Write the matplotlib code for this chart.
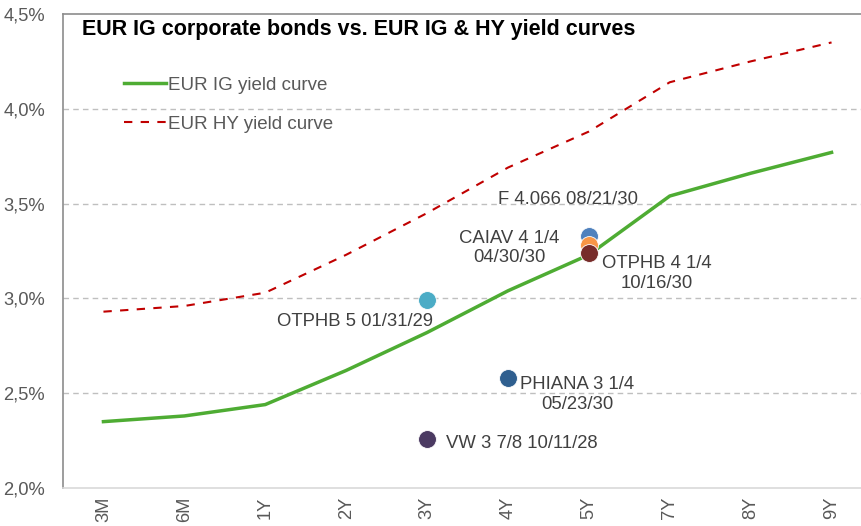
import matplotlib
matplotlib.use("Agg")
import matplotlib.pyplot as plt
from matplotlib.ticker import FuncFormatter

plt.rcParams["font.family"] = ["Liberation Sans", "DejaVu Sans"]

tenors = ["3M", "6M", "1Y", "2Y", "3Y", "4Y", "5Y", "7Y", "8Y", "9Y"]
ig_curve = [2.35, 2.38, 2.44, 2.62, 2.82, 3.04, 3.23, 3.54, 3.66, 3.77]
hy_curve = [2.93, 2.96, 3.03, 3.23, 3.45, 3.69, 3.88, 4.14, 4.25, 4.35]

# individual bonds: name, tenor bucket, yield
bond_names = ["OTPHB 5 01/31/29", "PHIANA 3 1/4\n05/23/30", "VW 3 7/8 10/11/28",
              "F 4.066 08/21/30", "CAIAV 4 1/4\n04/30/30", "OTPHB 4 1/4\n10/16/30"]
bond_tenors = ["3Y", "4Y", "3Y", "5Y", "5Y", "5Y"]
bond_yields = [2.99, 2.58, 2.26, 3.33, 3.28, 3.24]
bond_colors = ["#4bacc6", "#2f5f8f", "#4b3a62", "#4f81bd", "#f79646", "#772c2a"]

TEXT = "#404040"
TICK = "#595959"

fig = plt.figure(figsize=(8.61, 5.26), dpi=100)
ax = fig.add_axes([63 / 861, 1 - 488 / 526, 809 / 861, 474 / 526])

x = list(range(len(tenors)))
ax.plot(x, ig_curve, color="#4eac33", linewidth=2.5, label="EUR IG yield curve", zorder=3)
ax.plot(x, hy_curve, color="#c00000", linewidth=1.5, dashes=(4, 4),
        label="EUR HY yield curve", zorder=3)

bx = [tenors.index(t) for t in bond_tenors]
for xi, yi, c in zip(bx, bond_yields, bond_colors):
    ax.scatter(xi, yi, s=165, color=c, edgecolor="white", linewidth=0.6, zorder=4)

# label offsets from the dots, in points
offsets = [(-52, -15, "center"), (50, -12, "center"), (14, -3.5, "left"),
           (-15, 26, "center"), (-57, -2, "center"), (49, -15, "center")]
for name, xi, yi, (dx, dy, ha) in zip(bond_names, bx, bond_yields, offsets):
    ax.annotate(name, (xi, yi), xytext=(dx, dy), textcoords="offset points",
                ha=ha, va="center", fontsize=13.3, color=TEXT, linespacing=1.2,
                zorder=5)

ax.set_xlim(-0.5, len(tenors) - 0.5)
ax.set_ylim(2.0, 4.5)
ax.set_yticks([2.0, 2.5, 3.0, 3.5, 4.0, 4.5])
ax.yaxis.set_major_formatter(FuncFormatter(lambda v, p: f"{v:.1f}%".replace(".", ",")))
ax.set_xticks(x)
ax.set_xticklabels(tenors, rotation=90)
ax.tick_params(axis="both", length=0, labelsize=13.2, labelcolor=TICK)
ax.tick_params(axis="y", pad=13)
ax.tick_params(axis="x", pad=6)

for v in [2.5, 3.0, 3.5, 4.0]:
    ax.axhline(v, color="#bfbfbf", linewidth=1.0, dashes=(4, 3), zorder=1)

ax.spines["left"].set_color("#8c8c8c")
ax.spines["top"].set_color("#8c8c8c")
ax.spines["bottom"].set_color("#d9d9d9")
ax.spines["right"].set_visible(False)
for s in ("left", "top", "bottom"):
    ax.spines[s].set_linewidth(1.2)

fig.text(82 / 861, 1 - 30 / 526, "EUR IG corporate bonds vs. EUR IG & HY yield curves",
         fontsize=15.5, fontweight="bold", color="black", va="center", ha="left")

leg = ax.legend(loc="upper left", bbox_to_anchor=(0.055, 0.903), frameon=False,
                fontsize=13.5, handlelength=2.2, labelspacing=1.15, handletextpad=0.15)
for t in leg.get_texts():
    t.set_color(TICK)

fig.savefig("out.png", dpi=100)
